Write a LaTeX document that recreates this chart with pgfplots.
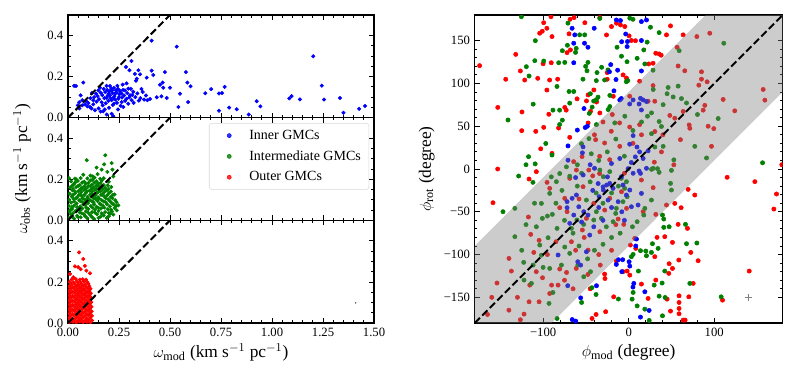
\documentclass[border=0pt]{standalone}
\usepackage{fontspec}
\setmainfont{Liberation Serif}
\usepackage{pgfplots}
\pgfplotsset{compat=1.18}

\pgfplotsset{
  mpl/.style={scale only axis, axis line style={line width=0.8pt}, tick align=inside,
    xtick pos=both, ytick pos=both, major tick length=3.8pt, minor tick length=2pt,
    every tick/.style={black, line width=0.6pt},
    tick label style={font=\fontsize{9.5}{11}\selectfont},
    label style={font=\fontsize{13}{15}\selectfont}, clip marker paths=true},
  leftp/.style={mpl, width=229.5pt, height=77pt, xmin=0, xmax=1.5, ymin=0, ymax=0.5,
    xtick={0,0.25,0.5,0.75,1,1.25,1.5}, minor x tick num=4, xticklabels={},
    ytick={0,0.2,0.4}, yticklabels={0.0,0.2,0.4}, minor y tick num=3},
  dots/.style={only marks, mark=*, mark size=1.3pt, #1, mark options={solid}},
  rdots/.style={only marks, mark=*, mark size=1.6pt, #1, mark options={solid}},
  diag/.style={black, line width=1.5pt, dash pattern=on 5.5pt off 2.5pt},
}

\begin{document}
\begin{tikzpicture}
\useasboundingbox (0,0) rectangle (594.75pt,-282pt);

% Inner GMCs
\begin{axis}[leftp, at={(51pt,-11.25pt)}, anchor=north west]
\addplot[dots=blue] coordinates {
(0.039,0.154)(0.075,0.171)(0.062,0.109)(0.070,0.085)(0.083,0.065)(0.100,0.071)(0.108,0.052)(0.124,0.085)
(0.124,0.065)(0.137,0.117)(0.149,0.133)(0.157,0.146)(0.132,0.036)(0.170,0.060)(0.173,0.031)(0.189,0.155)
(0.206,0.154)(0.216,0.133)(0.199,0.117)(0.189,0.097)(0.206,0.109)(0.222,0.097)(0.230,0.117)(0.214,0.085)
(0.235,0.133)(0.242,0.155)(0.225,0.068)(0.201,0.048)(0.214,0.019)(0.222,0.007)(0.247,0.092)(0.252,0.114)
(0.263,0.076)(0.271,0.052)(0.268,0.161)(0.287,0.167)(0.296,0.141)(0.279,0.133)(0.304,0.109)(0.287,0.092)
(0.312,0.085)(0.320,0.126)(0.333,0.180)(0.328,0.213)(0.311,0.276)(0.284,0.247)(0.301,0.231)(0.345,0.231)
(0.353,0.211)(0.337,0.190)(0.347,0.083)(0.366,0.125)(0.382,0.108)(0.373,0.088)(0.389,0.085)(0.402,0.091)
(0.410,0.229)(0.386,0.195)(0.418,0.208)(0.435,0.099)(0.451,0.160)(0.467,0.146)(0.475,0.222)(0.484,0.096)
(0.500,0.146)(0.541,0.052)(0.549,0.117)(0.578,0.222)(0.585,0.171)(0.589,0.076)(0.601,0.153)(0.673,0.119)
(0.533,0.346)(0.410,0.375)(0.464,0.171)(0.458,0.104)
(0.110,0.095)(0.118,0.120)(0.128,0.100)(0.140,0.078)(0.145,0.105)(0.152,0.090)(0.160,0.122)(0.165,0.075)
(0.168,0.110)(0.175,0.140)(0.178,0.095)(0.182,0.125)(0.185,0.070)(0.192,0.135)(0.195,0.108)(0.198,0.082)
(0.203,0.128)(0.208,0.095)(0.212,0.140)(0.218,0.120)(0.220,0.062)(0.225,0.145)(0.228,0.105)(0.232,0.088)
(0.238,0.122)(0.240,0.072)(0.245,0.140)(0.250,0.100)(0.255,0.130)(0.258,0.058)(0.262,0.118)(0.265,0.098)
(0.270,0.135)(0.275,0.108)(0.280,0.082)(0.290,0.120)(0.295,0.068)(0.300,0.098)(0.308,0.140)(0.315,0.110)
(0.322,0.072)(0.330,0.100)(0.340,0.118)(0.355,0.095)(0.360,0.140)(0.090,0.080)(0.095,0.055)(0.055,0.075)
(0.048,0.060)(0.115,0.045)(0.150,0.045)(0.180,0.040)(0.160,0.030)(0.245,0.040)(0.190,0.015)(0.056,0.045)
(0.070,0.060)(0.030,0.155)
(1.202,0.299)(0.740,0.118)(0.755,0.120)(0.768,0.150)(0.702,0.139)(0.740,0.034)(0.790,0.049)(0.827,0.041)
(0.886,0.015)(0.925,0.080)(0.943,0.055)(1.085,0.094)(1.096,0.105)(1.137,0.089)(1.244,0.156)(1.255,0.088)
(1.333,0.096)(1.350,0.024)(1.427,0.043)(1.456,0.057)};
\addplot[diag] coordinates {(0,0)(0.5,0.5)};
\end{axis}

% Intermediate GMCs
\begin{axis}[leftp, at={(51pt,-88.25pt)}, anchor=north west,
  ylabel={$\omega_{\rm obs}$ (km s$^{-1}$ pc$^{-1}$)},
  ylabel style={at={(axis description cs:-0.150,0.5)}, anchor=center, rotate=0},
  legend cell align=left,
  legend image code/.code={\path[draw=none] (0pt,0pt) -- (24pt,0pt);
    \path[#1] plot coordinates {(11pt,0pt)};},
  legend style={at={(0.984,0.948)}, anchor=north east, draw=gray!30, rounded corners=2pt,
    fill=white, fill opacity=0.8, text opacity=1, font=\fontsize{10.5}{12}\selectfont,
    row sep=3pt, inner xsep=4pt, inner ysep=3pt}]
\addlegendimage{only marks, mark=*, mark size=1.5pt, blue}
\addlegendentry{Inner GMCs}
\addlegendimage{only marks, mark=*, mark size=1.5pt, green!50!black}
\addlegendentry{Intermediate GMCs}
\addlegendimage{only marks, mark=*, mark size=1.5pt, red}
\addlegendentry{Outer GMCs}
\addplot[dots=green!50!black, forget plot] coordinates {
(0.183,0.317)(0.092,0.293)(0.177,0.273)(0.214,0.279)(0.140,0.257)(0.165,0.247)(0.193,0.236)(0.218,0.247)
(0.034,0.203)(0.222,0.214)(0.121,0.214)(0.247,0.073)(0.239,0.049)(0.206,0.032)
(0.005,0.012)(0.030,0.008)(0.062,0.015)(0.095,0.010)(0.128,0.006)(0.160,0.018)(0.190,0.012)
(0.015,0.028)(0.045,0.022)(0.078,0.030)(0.110,0.025)(0.142,0.030)(0.175,0.024)(0.222,0.028)
(0.008,0.042)(0.036,0.045)(0.058,0.038)(0.088,0.044)(0.118,0.040)(0.150,0.046)(0.182,0.040)(0.215,0.044)
(0.020,0.056)(0.048,0.052)(0.070,0.058)(0.100,0.055)(0.132,0.052)(0.162,0.058)(0.195,0.054)(0.228,0.060)
(0.004,0.070)(0.030,0.072)(0.060,0.068)(0.085,0.074)(0.112,0.070)(0.140,0.066)(0.170,0.072)(0.205,0.068)(0.235,0.070)
(0.015,0.086)(0.042,0.082)(0.072,0.088)(0.098,0.084)(0.125,0.088)(0.155,0.082)(0.185,0.088)(0.215,0.084)
(0.006,0.100)(0.028,0.104)(0.055,0.098)(0.082,0.102)(0.108,0.098)(0.135,0.104)(0.165,0.098)(0.198,0.102)(0.232,0.098)
(0.018,0.116)(0.045,0.112)(0.068,0.118)(0.095,0.114)(0.122,0.118)(0.148,0.112)(0.178,0.116)(0.210,0.114)
(0.008,0.130)(0.035,0.132)(0.060,0.128)(0.088,0.134)(0.115,0.130)(0.142,0.134)(0.170,0.128)(0.200,0.132)(0.228,0.126)
(0.022,0.146)(0.050,0.142)(0.078,0.148)(0.105,0.144)(0.132,0.148)(0.160,0.142)(0.190,0.146)
(0.010,0.160)(0.040,0.162)(0.068,0.158)(0.098,0.164)(0.125,0.160)(0.152,0.164)(0.182,0.158)(0.212,0.162)
(0.028,0.176)(0.058,0.172)(0.088,0.178)(0.118,0.174)(0.148,0.178)(0.175,0.172)
(0.015,0.190)(0.048,0.192)(0.080,0.188)(0.110,0.194)(0.140,0.190)(0.165,0.194)(0.200,0.188)
(0.062,0.206)(0.095,0.204)(0.130,0.208)(0.158,0.202)(0.075,0.222)(0.110,0.218)(0.145,0.225)
(0.020,0.018)(0.050,0.016)(0.085,0.020)(0.118,0.016)(0.150,0.012)(0.200,0.020)
(0.025,0.035)(0.068,0.034)(0.100,0.036)(0.132,0.038)(0.165,0.034)(0.200,0.036)
(0.010,0.050)(0.060,0.050)(0.090,0.062)(0.120,0.062)(0.150,0.060)(0.178,0.062)(0.210,0.052)
(0.020,0.065)(0.045,0.064)(0.075,0.078)(0.128,0.078)(0.160,0.078)(0.192,0.078)(0.222,0.078)
(0.030,0.092)(0.060,0.094)(0.090,0.092)(0.118,0.092)(0.145,0.094)(0.175,0.092)(0.205,0.094)(0.238,0.088)
(0.040,0.108)(0.070,0.108)(0.098,0.108)(0.125,0.108)(0.152,0.106)(0.185,0.108)(0.218,0.108)
(0.025,0.124)(0.052,0.122)(0.080,0.124)(0.108,0.124)(0.135,0.122)(0.162,0.124)(0.192,0.122)(0.220,0.124)
(0.035,0.140)(0.065,0.138)(0.092,0.140)(0.118,0.140)(0.148,0.138)(0.178,0.138)(0.210,0.140)
(0.025,0.152)(0.060,0.152)(0.088,0.154)(0.115,0.152)(0.140,0.154)(0.170,0.152)(0.198,0.152)
(0.020,0.168)(0.050,0.168)(0.080,0.166)(0.110,0.168)(0.138,0.168)(0.165,0.166)(0.195,0.170)
(0.035,0.184)(0.070,0.184)(0.100,0.182)(0.130,0.184)(0.160,0.182)
(0.005,0.205)(0.040,0.200)(0.120,0.198)(0.175,0.205)};
\addplot[diag, forget plot] coordinates {(0,0)(0.5,0.5)};
\end{axis}

% Outer GMCs
\begin{axis}[leftp, at={(51pt,-165.25pt)}, anchor=north west,
  xticklabels={0.00,0.25,0.50,0.75,1.00,1.25,1.50},
  xlabel={$\omega_{\rm mod}$ (km s$^{-1}$ pc$^{-1}$)},
  xlabel style={at={(axis description cs:0.5,-0.29)}, anchor=center}]
\addplot[dots=red] coordinates {
(0.054,0.344)(0.075,0.312)(0.034,0.276)(0.050,0.272)(0.083,0.278)(0.010,0.239)(0.108,0.242)(0.026,0.223)(0.062,0.262)(0.090,0.255)
(0.006,0.004)(0.024,0.006)(0.041,0.003)(0.058,0.007)(0.075,0.004)(0.093,0.006)(0.110,0.003)
(0.014,0.013)(0.032,0.015)(0.050,0.012)(0.066,0.014)(0.084,0.012)(0.101,0.015)(0.118,0.012)
(0.004,0.024)(0.022,0.022)(0.040,0.025)(0.057,0.023)(0.074,0.026)(0.092,0.022)(0.109,0.025)
(0.013,0.035)(0.030,0.037)(0.048,0.034)(0.065,0.036)(0.083,0.034)(0.100,0.037)(0.117,0.035)
(0.005,0.046)(0.021,0.044)(0.039,0.047)(0.056,0.045)(0.073,0.048)(0.091,0.045)(0.108,0.047)
(0.012,0.057)(0.030,0.059)(0.047,0.056)(0.064,0.058)(0.082,0.056)(0.099,0.059)(0.116,0.057)
(0.004,0.068)(0.021,0.066)(0.038,0.069)(0.055,0.067)(0.072,0.070)(0.090,0.067)(0.107,0.069)
(0.013,0.079)(0.029,0.081)(0.046,0.078)(0.063,0.080)(0.081,0.078)(0.098,0.081)(0.115,0.079)
(0.005,0.090)(0.022,0.088)(0.039,0.091)(0.056,0.089)(0.073,0.092)(0.090,0.089)(0.106,0.091)
(0.012,0.101)(0.030,0.103)(0.047,0.100)(0.064,0.102)(0.081,0.100)(0.098,0.103)(0.114,0.101)
(0.004,0.112)(0.021,0.110)(0.038,0.113)(0.055,0.111)(0.072,0.114)(0.089,0.111)(0.106,0.113)
(0.013,0.123)(0.029,0.125)(0.046,0.122)(0.063,0.124)(0.080,0.122)(0.097,0.125)(0.113,0.123)
(0.005,0.134)(0.022,0.132)(0.039,0.135)(0.056,0.133)(0.072,0.136)(0.089,0.133)(0.105,0.135)
(0.012,0.145)(0.030,0.147)(0.047,0.144)(0.064,0.146)(0.081,0.144)(0.097,0.147)(0.112,0.145)
(0.004,0.156)(0.021,0.154)(0.038,0.157)(0.055,0.155)(0.071,0.158)(0.088,0.155)(0.104,0.157)
(0.013,0.167)(0.030,0.169)(0.047,0.166)(0.063,0.168)(0.079,0.166)(0.096,0.169)(0.110,0.167)
(0.006,0.178)(0.023,0.176)(0.040,0.179)(0.057,0.177)(0.073,0.180)(0.089,0.177)(0.104,0.179)
(0.015,0.189)(0.032,0.191)(0.050,0.188)(0.066,0.190)(0.083,0.188)(0.100,0.191)
(0.008,0.200)(0.027,0.198)(0.045,0.201)(0.061,0.199)(0.078,0.202)(0.095,0.199)
(0.018,0.212)(0.038,0.214)(0.058,0.211)(0.072,0.213)(0.088,0.211)};
\addplot[diag] coordinates {(0,0)(0.5,0.5)};
\addplot[only marks, mark=*, mark size=0.35pt, gray!70!black] coordinates {(1.41,0.098)};
\end{axis}

% phi_rot vs phi_mod
\begin{axis}[mpl, at={(356pt,-11.25pt)}, anchor=north west, width=231pt, height=231pt,
  xmin=-180, xmax=180, ymin=-180, ymax=180,
  xtick={-100,0,100}, xticklabels={−100,0,100}, minor x tick num=4,
  ytick={-150,-100,-50,0,50,100,150}, yticklabels={−150,−100,−50,0,50,100,150}, minor y tick num=4,
  xlabel={$\phi_{\rm mod}$ (degree)}, ylabel={$\phi_{\rm rot}$ (degree)},
  xlabel style={at={(axis description cs:0.5,-0.096)}, anchor=center},
  ylabel style={at={(axis description cs:-0.156,0.5)}, anchor=center}]
\addplot[rdots=red] coordinates {
(-174.2,120.8)(-132,134)(-153,72)(-143.7,104.9)(-126.6,114.6)(-121.5,104)(-124.7,66.7)(-125,44.8)(-153.1,0)
(-106.3,106)(-108.6,44)(-102.8,23.6)(-99.3,48.7)(-100,123)(-104,158.7)(-101,161)(-95.6,164.5)(-99.3,171)
(-89.6,154.8)(-92.4,104)(-90.5,124.2)(-95.6,92.3)(-93.3,64)(-83,105)(-81.9,47.9)(-90.8,178)(-69.7,158)
(-68.1,139.2)(-72,136)(-74.7,72)(-73,68.8)(-68.9,37)(-89.6,18.3)(-60.3,82)(-47.4,86.6)(-49.3,79.6)
(-44.6,67.3)(-47.4,53.8)(-33.7,65.5)(-51.2,171)(-63.8,177)(-68.5,175)(-33.7,177)(-25.9,156.7)(-25.1,112.7)
(-14.2,170.4)(-20.1,166.5)(-4.5,166.5)(-25.1,104.9)(-40.7,92.4)(-37.6,78.3)
(-9.6,168.4)(48.9,167.3)(44.2,156.8)(63.7,156.8)(0.5,155.6)(3.2,150.2)(31.7,135.3)(35.6,134.5)(38,133)
(23.4,122.8)(28.5,123.6)(-6.5,110)(-2.6,106.3)(8,150)(-158.6,-39.4)(-116.4,-11.7)
(115.1,-9.7)(147.5,-14.8)(172.8,-29.2)(169.7,-46.8)(69.5,-23.8)(77.3,-30.4)(53.9,-40.2)(61.3,-45.2)
(57.8,-64.7)(68.7,-69.4)(42.2,-79.1)(33.2,-79.9)(51.2,-85.8)(72.6,-97.5)(30.5,-102.5)(81.2,-107.2)
(47.3,-110.7)(58.6,-106.4)(51.2,-116.2)(46.9,-122)(1.3,-124)(14.9,-134.5)(31.7,-129.8)(75.4,-133.7)
(140.9,-119.3)(-1.8,-119.3)(22.7,-151.3)(44.9,-152.1)(58.9,-148.2)(58.9,-156)(58.9,-163)(58.9,-169.2)
(48.9,-166.1)(70.3,-149.4)(109.7,-153.3)(63.7,-176.6)(66,-176.6)(2,-88.9)(8.3,-92.8)
(-42.8,-174.7)(-38.1,-170)(-26.9,-166.8)(-14.4,-107.6)(-6.6,-120)(-27.7,-128)(-17.5,-149.4)(179,5)
(-107.9,-3.1)(-95.4,-15.6)(-92.3,-22.6)(-80.6,-45.2)(-72,-49.9)(-74.7,-34.3)(-53.3,-20.7)(-68.9,-10.9)
(-61.1,-1.2)(-117.2,-56.1)(-114.5,-76.4)(-104.7,-83.4)(-139.9,-104.5)(-137.1,-119.3)(-153.9,-133.3)
(-126.6,-176.2)(-122.3,-169.6)(-104.7,-155.2)(-92.3,-145.5)(-82.5,-135.7)(-80.6,-116.9)(-66.9,-85)
(-54.1,-71.3)(-49.4,-57.7)(-40.8,-40.2)(-22.1,-34.3)(-8.4,-26.5)(-2.5,-46)(-12.3,-58.5)(-33.7,-73.3)
(-47.4,-94.8)(-33.2,-112.3)(-28.1,-122.8)(-47.6,-123.2)(-61.3,-116.2)(-72.6,-120.9)(-90.1,-135.7)
(-100.7,-127.1)(-110.9,-97.5)(-115.6,-135.7)(-116.4,-155.2)
(-10.6,53.9)(-19.1,63.7)(-20.3,44.1)(-28.1,30.4)(-38.6,34.3)(-33.9,14.8)(-22.2,10.9)(-10.4,26.5)
(-54.5,14.5)(-64.3,8.6)(-46.6,-1.2)(-34,-5.3)
(12.8,102.6)(28.5,97.5)(1.2,85.1)(22.7,79.2)(30.5,79.2)(30.6,43.8)(12.8,51.9)(1.2,49.1)(30,8)
(79.7,154.8)(94.8,158.7)(56.6,142.3)(57.8,120.4)(65.6,114.8)(85.1,113.6)(85.1,105)(91.7,101.9)(82,98)
(157.2,93)(159.2,80.5)(124,68)(110.4,81.3)(89,74.4)(87.1,68.8)(92.9,50)(99.5,47.2)(70.7,51.5)(71.5,47.6)
(63.7,67.3)(60.5,34.3)(96.8,26.5)(53.9,59.4)(48.1,62.6)(38.3,20)(52.8,4.9)
(14.9,-12.9)(28.6,-21.8)(44.2,-42.1)(31.7,-53)(16.9,-49.9)(-5.7,-64.7)(7.1,-81.1)
(-58,-35)(-42,-8)(-28,-48)(-15,-65)(-5,-5)(-62,-95)(-52,-80)(-35,-100)(-20,-95)(-85,-85)(-95,-100)
(-108,-120)(-75,-130)(-65,-140)(-45,-140)(-130,-150)(-140,-165)(-160,-150)(-165,-170)(5,30)(15,40)
(40,40)(-40,40)(-30,55)(-18,85)};
\addplot[rdots=green!50!black] coordinates {
(-125.4,178)(-109.1,150)(-77.5,138.3)(-71.6,144.6)(-119.6,119.6)(-116.4,108.7)(-109.7,126.6)(-99.3,126.2)
(-81.8,124.2)(-74.7,124.6)(-83.8,96.5)(-111.6,75.8)(-141,57.3)(-88.5,68.8)(-80.7,68.8)(-77.5,57.1)(-80.7,52)
(-96.9,29.8)(-117,14.4)(-89.6,16.3)(-109.3,6)(-69.7,90.6)(-68.9,77)(-64.2,90.6)(-62.1,136.3)(-61.3,141)
(-71,170.5)(-57.3,156.8)(-51.4,156.8)(-47.6,124.6)(-50.3,120)(-48.7,114.8)(-53.4,105)(-44.8,88)(-40.9,79.4)
(-37.8,81)(-35.8,84)(-42.7,72.3)(-37.8,103.3)(-37,112.7)(-33.7,176)(-31.6,118.9)(-28.1,104)(-24.2,115.8)
(-22,86)(-22,73)(-2.7,102)(-1.9,125.4)(-13.6,142.3)(-8.4,131.8)(-46,65)
(1.3,176.3)(5,175)(25.5,165.7)(35.6,159.4)(21.6,148.3)(17.7,139.2)(9.9,129.4)(18.9,122.8)(-1,103.3)(28.5,115.5)
(-146.9,-49.9)(-128.6,-8.2)(-111.9,-15.6)(-120,5)
(39.5,-53.8)(41,-58.5)(41,-68.2)(47.3,-67.5)(66.4,-64.7)(67.6,-87.3)(79.7,-86.5)(27.8,-87.3)(34.4,-92.8)
(20,-95.9)(26.6,-97.5)(13.8,-95.5)(20.8,-101.4)(5.2,-99.8)(3.2,-102.5)(11.4,-119.3)(42.2,-119.3)(39.1,-133.3)
(71.5,-133.7)(29.8,-135.7)(35.6,-148.6)(42.6,-150.2)(5.2,-144.3)(4,-152.1)(9.9,-160)(18.9,-163.8)(39.5,-171.6)
(24,-177)(108.1,-149.4)(156.5,7.3)(-43,-138.7)(-55,-156)(-38.1,-146.7)(-12,-152)
(-133,-46)(-102,-40.2)(-92.3,-28.5)(-84.5,-14.8)(-89.2,-53)(-100.9,-57.7)(-107.9,-67.5)(-83.7,-69.4)
(-94.2,-80.3)(-103.9,-88.9)(-102,-100.7)(-122.7,-109.1)(-111.7,-112.3)(-122.3,-129.8)(-113.7,-133.7)
(-133,-79.1)(-92.3,-116.2)(-93.1,-157.1)(-88.5,-144.3)(-83.7,-174.7)(-78.6,-112.3)(-68.9,-98.6)(-74.7,-91.2)
(-66.9,-69.4)(-60.5,-59.6)(-52.6,-64.7)(-49.4,-36.3)(-40.8,-59.6)(-37.8,-49.9)(-31.9,-57.7)(-26.1,-67.5)
(-18.2,-61.6)(-15.2,-51.9)(-6.6,-38.2)(-4.7,-22.6)(-8.6,-10.9)(-29.6,-9)(-33.7,-1.2)(-22.1,-3.1)(-14.4,-46)
(-59.4,-112.3)(-52.5,-125.9)(-44.6,-120)
(-46.4,35.5)(-43.7,17.8)(-55.2,29.6)(-37.7,51.9)(-24,69.5)(-16.2,53.9)(-72.8,2.5)(-68.9,-8.4)(-80.6,-5.3)(-90.4,-9.2)
(-4.5,61.7)(22,61.7)(26.7,65.6)(28.7,92.9)(30.6,25.7)(33.7,0.4)(26.7,-0.4)(26.7,41.3)
(111.2,147)(59,138.3)(104.6,59)(80.4,63.7)(67.6,77.2)(77.3,26.5)(91,12.9)(61.7,82.3)(52,84.2)(44.9,88)
(40.3,75.2)(35.6,55.5)(38.3,49.7)(52.8,10.7)(40.3,26.5)(46.1,95.3)(57.8,96.9)(50,-1.6)
(35.6,-3.9)(48.9,-16.8)(50,-24.6)(26.6,-36.3)(18.9,-46)(17.7,-53.8)(9.9,-61.6)(4.4,-67.5)(-2.6,-14.8)(-1.8,-32.4)(28.6,0.8)
(-60,-20)(-55,-5)(-45,-15)(-38,-28)(-30,-40)(-20,-28)(-12,-20)(-65,-75)(-75,-60)(-85,-40)(-95,-55)
(-58,-90)(-48,-105)(-40,-95)(-30,-88)(-20,-80)(-10,-75)(-35,10)(-25,20)(-15,35)(-5,15)(5,45)(15,55)
(-60,5)(-78,-25)(-110,-40)(-120,-65)(-125,-95)(-100,-115)};
\addplot[rdots=blue] coordinates {
(-66.1,164.5)(-63,156.8)(-64.2,147)(-51.6,147)(-47.6,142.3)(-64.2,124.2)(-52.2,70.7)(-48.3,50)(-50.7,48.5)
(-60,45.5)(-70.9,27)(-40.3,164.5)(-14.4,174.2)(-3.5,157.8)(-8.2,148.8)(-21,122)(-22.5,113.6)(-14.8,104.6)
(-17.2,91.4)(-8.6,82.4)(-12.9,115.5)
(-9.6,173.5)(14.9,172.3)(20.8,174.2)(-1.4,149)(14.9,150.2)(-1.8,143.1)(14.9,114.6)
(-10.4,12.3)(-53.3,25.9)(-54.1,18.9)(-70.9,10.3)(-35.7,-17)(-29.9,-20.9)(-24.8,-9.2)(-20.1,6.4)(-10.4,80.7)
(5.2,80.7)(16.9,80.7)(1.2,76)(5.2,39)(1.2,29)(9.7,25.7)(12.8,20)(7.8,14.2)(3.1,7.6)(16.9,12.3)(22.7,21.2)
(20.8,0.8)(12.2,-2.3)(5.2,-5)(-0.7,0.4)(13.8,82.6)(20.8,78.9)(12.2,76)(14.9,69)
(-72,-38.2)(-66.1,-34.3)(-61.1,-30.4)(-72,-45.2)(-64.2,-53.8)(-58.3,-44.1)(-52.5,-49.9)(-47.6,-53.8)
(-40.8,-67.5)(-45.5,-77.2)(-34.5,-32.4)(-29.6,-24.6)(-25.7,-18.7)(-22.1,-16.8)(-18.2,-22.6)(-24.1,-36.3)
(-12.3,-38.2)(-6.6,-18.7)(-2.7,-30.4)(-49.4,-96.7)(-56.1,-112.3)(-71.2,-136.4)(-59.5,-108.4)(-39.9,0.8)
(-53.2,-7)(-68.9,-63.5)(-82.5,-100.5)
(-8.5,-9)(1.3,-24.6)(14.9,-28.5)(11,-42.1)(3.2,-44.1)(13.8,-5.1)
(-42,-25)(-35,-45)(-55,-62)(-20,-45)(-8,-50)(-30,-60)(-62,-10)(-45,5)(-5,-60)
(9.1,-81.9)(8.3,-90)(0.5,-108.4)(1.3,-113.5)(-8,-120)(6,-133.7)(5,-138)(18.9,-143.5)(23.9,-165.3)
(13.8,-173.1)(-61.9,-177.8)(-66,-176)(-14.4,-111.5)(-12,-106)(-7,-106)(-37.6,-136.4)(-56.1,-150.6)};
\addplot[fill=gray, fill opacity=0.4, draw=none] coordinates {
(-180,-90)(90,180)(180,180)(180,90)(-90,-180)(-180,-180)} -- cycle;
\addplot[diag] coordinates {(-180,-180)(180,180)};
\addplot[only marks, mark=+, mark size=2.8pt, gray, line width=0.5pt] coordinates {(140,-150)};
\end{axis}
\end{tikzpicture}
\end{document}
